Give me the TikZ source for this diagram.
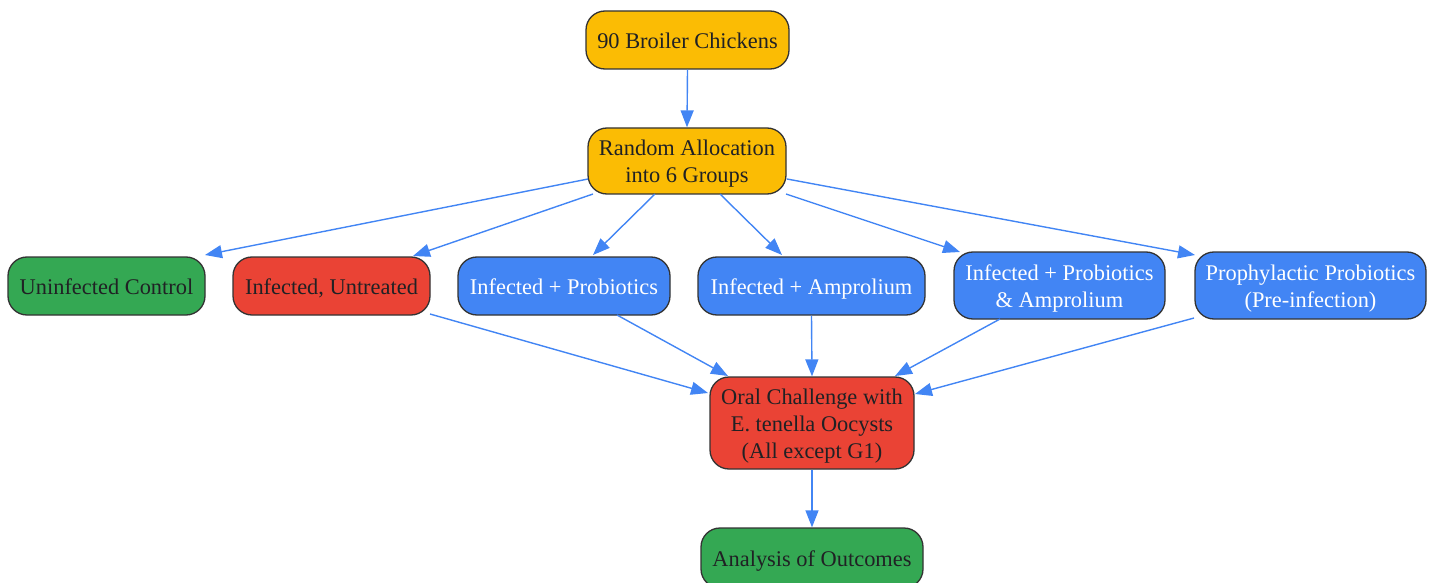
\documentclass[tikz,border=0pt]{standalone}
\usepackage{fontspec}
\setmainfont{Liberation Serif}
\usetikzlibrary{arrows.meta,calc}
\definecolor{gyellow}{HTML}{FBBC04}
\definecolor{gred}{HTML}{EA4335}
\definecolor{gblue}{HTML}{4285F4}
\definecolor{ggreen}{HTML}{34A853}
\definecolor{ink}{HTML}{202124}
\definecolor{edge}{HTML}{333333}
\tikzset{
  box/.style={draw=edge, line width=1.3pt, rounded corners=19pt, align=center,
    inner sep=0pt, font=\fontsize{22.4pt}{27pt}\selectfont, text=ink},
  lineone/.style={text height=16.6pt, text depth=0pt},
  linetwo/.style={text height=43.6pt, text depth=0pt},
  linethree/.style={text height=70.6pt, text depth=0pt},
  ybox/.style={box, fill=gyellow},
  rbox/.style={box, fill=gred},
  gbox/.style={box, fill=ggreen},
  bbox/.style={box, fill=gblue, text=white},
  arr/.style={draw=gblue, line width=1.4pt, -{Triangle[length=17pt,width=13pt]}},
}
\begin{document}
\begin{tikzpicture}[x=1pt,y=-1pt]
\useasboundingbox (0,0) rectangle (1436,583);
\node[ybox, lineone, minimum width=203pt, minimum height=58pt] (n1) at (687.5,40) {90 Broiler Chickens};
\node[ybox, linetwo, minimum width=198pt, minimum height=66pt] (n2) at (687,161) {Random Allocation\\into 6 Groups};
\node[gbox, lineone, minimum width=197pt, minimum height=58pt] (g1) at (106.5,286) {Uninfected Control};
\node[rbox, lineone, minimum width=197pt, minimum height=58pt] (g2) at (331.5,286) {Infected, Untreated};
\node[bbox, lineone, minimum width=212pt, minimum height=58pt] (g3) at (564,286) {Infected + Probiotics};
\node[bbox, lineone, minimum width=227pt, minimum height=58pt] (g4) at (811.5,286) {Infected + Amprolium};
\node[bbox, linetwo, minimum width=211pt, minimum height=67pt] (g5) at (1059.5,285.5) {Infected + Probiotics\\\& Amprolium};
\node[bbox, linetwo, minimum width=231pt, minimum height=67pt] (g6) at (1310.5,285.5) {Prophylactic Probiotics\\(Pre-infection)};
\node[rbox, linethree, minimum width=204pt, minimum height=92pt] (oral) at (812,423) {Oral Challenge with\\E. tenella Oocysts\\(All except G1)};
\node[gbox, lineone, minimum width=222pt, minimum height=60pt] (ana) at (812,558) {Analysis of Outcomes};

\draw[arr] (n1.south) -- (n2.north);
\draw[arr] ($(n2.center)+(-99,18)$) -- ($(g1.center)+(98.5,-31)$);
\draw[arr] ($(n2.center)+(-94,33)$) -- ($(g2.center)+(81.5,-30)$);
\draw[arr] ($(n2.center)+(-32,33)$) -- ($(g3.center)+(29,-31)$);
\draw[arr] ($(n2.center)+(33,33)$) -- ($(g4.center)+(-29.5,-31)$);
\draw[arr] ($(n2.center)+(99,33)$) -- ($(g5.center)+(-99.5,-33.5)$);
\draw[arr] ($(n2.center)+(100,18)$) -- ($(g6.center)+(-115.5,-30.5)$);
\draw[arr] ($(g2.center)+(98.5,28)$) -- ($(oral.center)+(-104,-30)$);
\draw[arr] ($(g3.center)+(53,29)$) -- ($(oral.center)+(-84,-47)$);
\draw[arr] (g4.south) -- (oral.north);
\draw[arr] ($(g5.center)+(-59.5,33.5)$) -- ($(oral.center)+(83,-47)$);
\draw[arr] ($(g6.center)+(-116.5,32.5)$) -- ($(oral.center)+(103,-29)$);
\draw[arr] (oral.south) -- (ana.north);
\end{tikzpicture}
\end{document}
